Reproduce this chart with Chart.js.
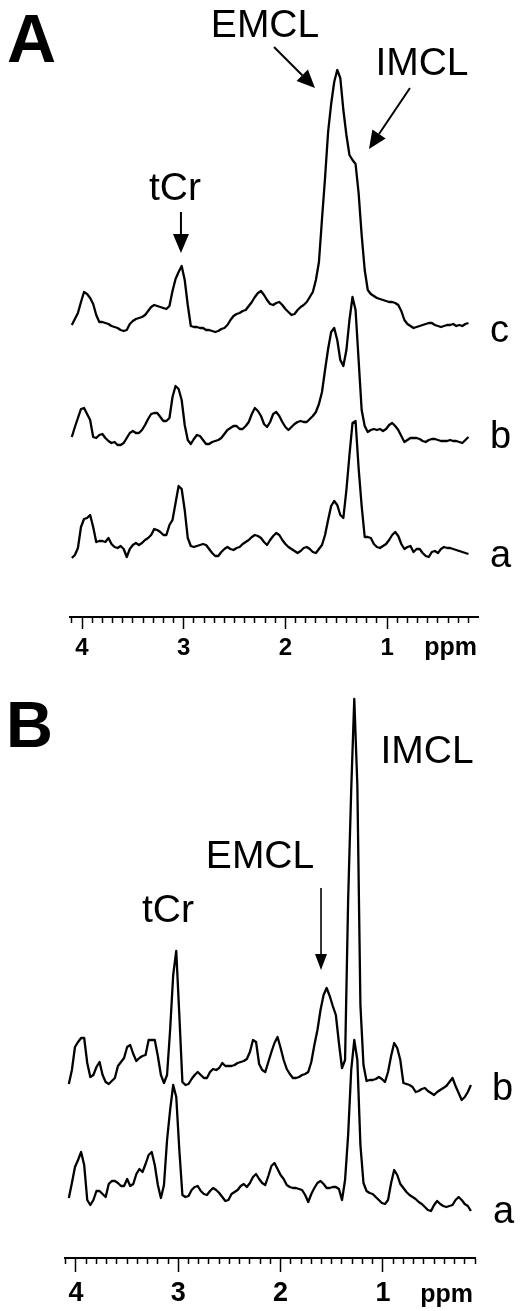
<!DOCTYPE html>
<html>
<head>
<meta charset="utf-8">
<title>1H MR spectra</title>
<script src="https://cdn.jsdelivr.net/npm/chart.js@4.4.0/dist/chart.umd.min.js"></script>
<style>
  html, body { margin: 0; padding: 0; background: #fff; }
  canvas { display: block; }
</style>
</head>
<body>
<canvas id="panel-a" width="520" height="660"></canvas>
<canvas id="panel-b" width="520" height="651"></canvas>
<script>
// chemical shift grid (ppm), shared by all traces
var ppm = [
  4.10,4.07,4.04,4.01,3.98,3.95,3.92,3.89,3.86,3.83,
  3.80,3.77,3.74,3.71,3.68,3.65,3.62,3.59,3.56,3.53,
  3.50,3.47,3.44,3.41,3.38,3.35,3.32,3.29,3.26,3.23,
  3.20,3.17,3.14,3.11,3.08,3.05,3.02,2.99,2.96,2.93,
  2.90,2.87,2.84,2.81,2.78,2.75,2.72,2.69,2.66,2.63,
  2.60,2.57,2.54,2.51,2.48,2.45,2.42,2.39,2.36,2.33,
  2.30,2.27,2.24,2.21,2.18,2.15,2.12,2.09,2.06,2.03,
  2.00,1.97,1.94,1.91,1.88,1.85,1.82,1.79,1.76,1.73,
  1.70,1.67,1.64,1.61,1.58,1.55,1.52,1.49,1.46,1.43,
  1.40,1.37,1.34,1.31,1.28,1.25,1.22,1.19,1.16,1.13,
  1.10,1.07,1.04,1.01,0.98,0.95,0.92,0.89,0.86,0.83,
  0.80,0.77,0.74,0.71,0.68,0.65,0.62,0.59,0.56,0.53,
  0.50,0.47,0.44,0.41,0.38,0.35,0.32,0.29,0.26,0.23,
  0.20,0.17,0.14
];

// panel A, intensities (a.u.) above each trace's own baseline
var spectrumAc = [
  2,8,14,25,35,33,29,23,12,5,
  5,4,3,1,0,-1,-3,-4,-3,3,
  6,8,9,10,12,16,20,22,21,20,
  19,18,21,36,48,55,61,47,22,1,
  0,0,-1,-1,-3,-3,-4,-5,-4,-2,
  -1,2,7,11,13,14,16,17,21,25,
  30,34,36,32,27,23,22,24,25,22,
  18,15,12,13,17,20,22,25,30,35,
  47,65,108,149,195,223,245,257,249,217,
  192,172,167,163,134,92,57,37,33,31,
  29,28,27,26,25,25,24,22,16,7,
  3,1,-1,0,1,2,3,4,4,2,
  1,0,1,2,2,3,1,2,1,3,
  4,null,null
];
var spectrumAb = [
  3,13,22,31,32,26,20,3,2,5,
  6,2,-1,-3,-2,-5,-5,-3,2,7,
  9,7,7,10,15,21,26,27,27,23,
  19,19,22,43,54,51,40,15,0,-4,
  1,5,4,0,-4,-4,-2,-1,0,2,
  6,10,12,14,14,11,11,14,18,26,
  32,29,24,16,13,18,26,28,24,18,
  13,10,13,16,18,19,18,18,21,24,
  28,36,48,70,91,108,112,100,80,74,
  90,120,143,130,80,30,14,8,10,11,
  10,11,9,11,15,17,14,10,4,-2,
  0,2,2,2,1,-1,-2,0,1,1,
  0,-1,-1,-1,0,-1,-1,-2,-3,0,
  3,null,null
];
var spectrumAa = [
  -5,-2,5,26,34,35,38,26,11,12,
  12,11,15,9,6,5,7,4,-4,4,
  8,10,8,10,13,15,18,24,23,21,
  18,18,28,33,50,67,64,43,15,7,
  6,7,8,9,8,4,0,-3,-3,1,
  4,6,4,3,5,6,9,11,13,16,
  18,17,15,11,8,13,17,20,18,13,
  9,6,4,2,0,2,5,6,4,1,
  0,4,8,18,33,47,52,48,38,35,
  63,98,130,132,85,47,16,16,15,9,
  6,5,7,9,13,18,21,17,9,4,
  6,7,1,4,4,0,-3,-4,1,2,
  0,4,6,5,5,4,3,2,1,0,
  -1,null,null
];

// panel B
var spectrumBb = [
  null,3,17,40,45,49,49,24,10,12,
  20,25,12,5,3,6,9,21,25,29,
  40,42,33,26,29,31,32,47,47,47,
  31,12,4,12,57,112,136,72,5,2,
  3,8,12,15,12,9,9,15,18,17,
  19,24,21,21,21,22,24,25,26,28,
  35,47,45,23,17,15,25,35,44,50,
  39,27,18,13,9,9,10,12,13,15,
  25,42,57,77,92,99,91,81,72,44,
  19,27,187,297,388,302,82,22,6,7,
  7,8,10,8,5,15,31,44,39,27,
  4,3,2,0,-5,-4,-2,-1,-4,-6,
  -8,-5,-3,-1,1,5,9,1,-6,-13,
  -10,-5,2
];
var spectrumBa = [
  null,2,17,33,40,48,35,0,-5,0,
  9,9,6,3,16,19,19,17,14,14,
  21,14,16,26,31,28,36,45,48,35,
  15,2,15,60,90,115,103,50,5,3,
  4,10,13,14,9,6,5,9,12,10,
  7,3,-1,0,6,8,10,14,16,13,
  17,23,26,21,17,15,24,34,37,31,
  25,21,15,13,12,12,11,10,5,-2,
  6,12,17,19,16,12,12,13,13,11,
  0,20,65,130,160,140,55,17,9,7,
  6,3,0,-3,-4,0,17,30,25,16,
  12,8,5,3,1,-2,-4,-7,-10,-11,
  -5,-1,-4,-6,-7,-6,-5,0,3,0,
  -4,-6,-11
];

// vertical stacking of the traces
var namesA = ["c", "b", "a"];
var offsetsA = [290, 177, 64];
var namesB = ["b", "a"];
var offsetsB = [171, 58];

var labelledTicks = [4, 3, 2, 1];
var fontFamily = "'Liberation Sans', Arial, Helvetica, sans-serif";

function traceData(values, offset) {
  var points = [];
  for (var i = 0; i < ppm.length; i++) {
    if (values[i] !== null) {
      points.push({ x: ppm[i], y: offset + values[i] });
    }
  }
  return points;
}

function isLabelled(v) {
  for (var i = 0; i < labelledTicks.length; i++) {
    if (Math.abs(v - labelledTicks[i]) < 1e-6) return true;
  }
  return false;
}

function drawArrow(ctx, x1, y1, x2, y2, width, headLen, headHalf) {
  var ang = Math.atan2(y2 - y1, x2 - x1);
  var bx = x2 - Math.cos(ang) * headLen;
  var by = y2 - Math.sin(ang) * headLen;
  ctx.lineWidth = width;
  ctx.beginPath();
  ctx.moveTo(x1, y1);
  ctx.lineTo(bx, by);
  ctx.stroke();
  ctx.beginPath();
  ctx.moveTo(x2, y2);
  ctx.lineTo(bx + Math.sin(ang) * headHalf, by - Math.cos(ang) * headHalf);
  ctx.lineTo(bx - Math.sin(ang) * headHalf, by + Math.cos(ang) * headHalf);
  ctx.closePath();
  ctx.fill();
}

function makeLabelPlugin(spec) {
  return {
    id: "peakLabels",
    afterDraw: function(chart) {
      var ctx = chart.ctx;
      var xs = chart.scales.x;
      var ys = chart.scales.y;
      ctx.save();
      ctx.fillStyle = "#000";
      ctx.strokeStyle = "#000";
      ctx.textBaseline = "alphabetic";

      ctx.font = "bold " + spec.letterSize + "px " + fontFamily;
      ctx.textAlign = "left";
      ctx.fillText(spec.letter, spec.letterAt[0], spec.letterAt[1]);

      spec.texts.forEach(function(t) {
        ctx.font = (t.bold ? "bold " : "") + t.size + "px " + fontFamily;
        ctx.textAlign = t.align;
        ctx.fillText(t.text, xs.getPixelForValue(t.ppm), ys.getPixelForValue(t.h));
      });

      spec.arrows.forEach(function(a) {
        drawArrow(ctx,
          xs.getPixelForValue(a.from[0]), ys.getPixelForValue(a.from[1]),
          xs.getPixelForValue(a.to[0]), ys.getPixelForValue(a.to[1]),
          a.width, a.head[0], a.head[1]);
      });
      ctx.restore();
    }
  };
}

function makePanel(canvasId, names, series, offsets, axis, spec) {
  var datasets = [];
  for (var i = 0; i < names.length; i++) {
    datasets.push({
      label: names[i],
      data: traceData(series[i], offsets[i]),
      borderColor: "#000",
      borderWidth: 2.3,
      borderJoinStyle: "round",
      pointRadius: 0,
      tension: 0,
      fill: false
    });
  }

  return new Chart(document.getElementById(canvasId), {
    type: "line",
    data: { datasets: datasets },
    options: {
      responsive: false,
      animation: false,
      events: [],
      layout: { padding: { left: axis.left, right: axis.right, top: 0, bottom: 0 } },
      plugins: { legend: { display: false }, tooltip: { enabled: false } },
      scales: {
        x: {
          type: "linear",
          reverse: true,
          min: axis.min,
          max: axis.max,
          afterFit: function(scale) { scale.height = axis.height; },
          border: { display: true, color: "#000", width: 2 },
          grid: {
            drawOnChartArea: false,
            drawTicks: true,
            tickLength: axis.tickLength,
            tickColor: "#000",
            tickWidth: 1.5,
            tickBorderDash: function(c) {
              return isLabelled(c.tick.value) ? [] : [5, 100];
            }
          },
          ticks: {
            stepSize: 0.1,
            autoSkip: false,
            maxRotation: 0,
            includeBounds: false,
            padding: axis.labelPad,
            color: "#000",
            font: { family: fontFamily, size: axis.fontSize, weight: "bold" },
            callback: function(value) {
              return isLabelled(value) ? String(Math.round(value)) : "";
            }
          }
        },
        y: { display: false, min: 0, max: axis.top }
      }
    },
    plugins: [makeLabelPlugin(spec)]
  });
}

makePanel("panel-a", namesA, [spectrumAc, spectrumAb, spectrumAa], offsetsA,
  { left: 70, right: 42, min: 0.106, max: 4.118, top: 617, height: 43, tickLength: 12, labelPad: 5, fontSize: 24 },
  {
    letter: "A", letterSize: 68, letterAt: [7, 62],
    texts: [
      { text: "EMCL", ppm: 2.200, h: 580, align: "center", size: 39 },
      { text: "IMCL", ppm: 0.657, h: 542, align: "center", size: 39 },
      { text: "tCr", ppm: 3.086, h: 417, align: "center", size: 39 },
      { text: "c", ppm: -0.012, h: 275, align: "left", size: 38 },
      { text: "b", ppm: -0.012, h: 169, align: "left", size: 38 },
      { text: "a", ppm: -0.012, h: 50, align: "left", size: 38 },
      { text: "ppm", ppm: 0.116, h: -38, align: "right", size: 25, bold: true }
    ],
    arrows: [
      { from: [2.112, 570], to: [1.709, 529], width: 2, head: [18, 8] },
      { from: [0.775, 529], to: [1.178, 468], width: 2, head: [18, 8] },
      { from: [3.027, 405], to: [3.027, 364], width: 2, head: [19, 8] }
    ]
  });

makePanel("panel-b", namesB, [spectrumBb, spectrumBa], offsetsB,
  { left: 65, right: 45, min: 0.100, max: 4.1075, top: 598, height: 53, tickLength: 14, labelPad: 5, fontSize: 27 },
  {
    letter: "B", letterSize: 65, letterAt: [6, 87],
    texts: [
      { text: "IMCL", ppm: 0.569, h: 495, align: "center", size: 39 },
      { text: "EMCL", ppm: 2.201, h: 390, align: "center", size: 39 },
      { text: "tCr", ppm: 3.101, h: 336, align: "center", size: 39 },
      { text: "b", ppm: -0.067, h: 158, align: "left", size: 38 },
      { text: "a", ppm: -0.076, h: 35, align: "left", size: 38 },
      { text: "ppm", ppm: 0.119, h: -44, align: "right", size: 25, bold: true }
    ],
    arrows: [
      { from: [1.605, 370], to: [1.605, 288], width: 1.6, head: [16, 6] }
    ]
  });
</script>
</body>
</html>
